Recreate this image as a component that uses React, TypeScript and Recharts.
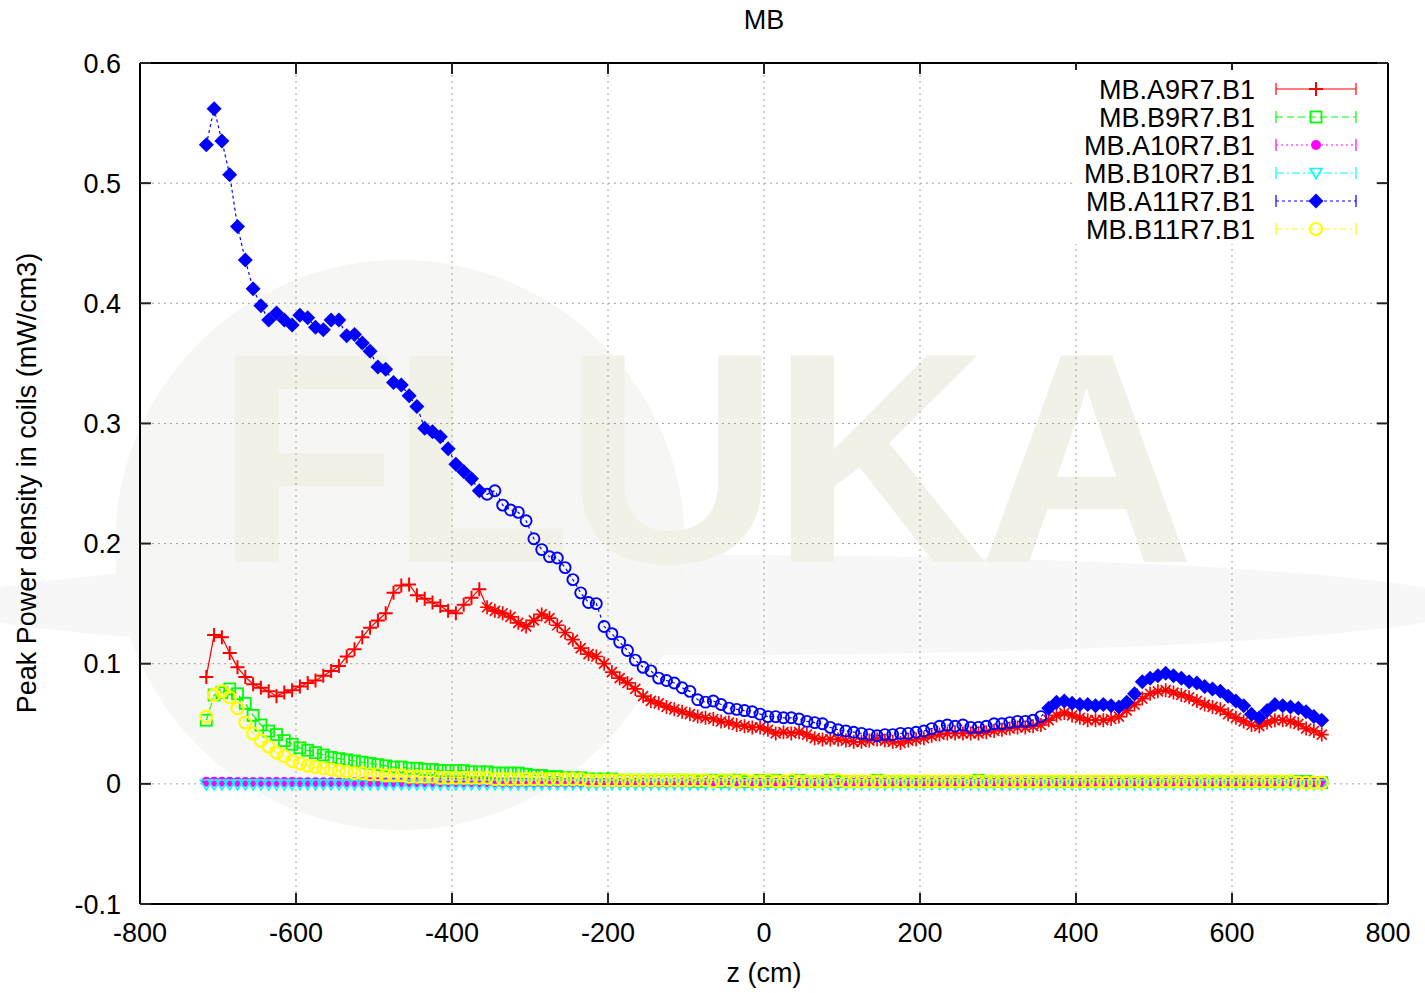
import { LineChart, Line, XAxis, YAxis, CartesianGrid } from 'recharts'

// z positions along the magnet (cm)
const zPos = [
  -715, -705, -695, -685, -675, -665, -655, -645, -635, -625, -615, -605,
  -595, -585, -575, -565, -555, -545, -535, -525, -515, -505, -495, -485,
  -475, -465, -455, -445, -435, -425, -415, -405, -395, -385, -375, -365,
  -355, -345, -335, -325, -315, -305, -295, -285, -275, -265, -255, -245,
  -235, -225, -215, -205, -195, -185, -175, -165, -155, -145, -135, -125,
  -115, -105, -95, -85, -75, -65, -55, -45, -35, -25, -15, -5,
  5, 15, 25, 35, 45, 55, 65, 75, 85, 95, 105, 115,
  125, 135, 145, 155, 165, 175, 185, 195, 205, 215, 225, 235,
  245, 255, 265, 275, 285, 295, 305, 315, 325, 335, 345, 355,
  365, 375, 385, 395, 405, 415, 425, 435, 445, 455, 465, 475,
  485, 495, 505, 515, 525, 535, 545, 555, 565, 575, 585, 595,
  605, 615, 625, 635, 645, 655, 665, 675, 685, 695, 705, 715
]

const mbA9 = [
  0.089, 0.124, 0.122, 0.109, 0.097, 0.089, 0.083, 0.080, 0.077, 0.073, 0.076, 0.078,
  0.081, 0.084, 0.086, 0.090, 0.094, 0.098, 0.106, 0.112, 0.122, 0.130, 0.136, 0.142,
  0.159, 0.165, 0.166, 0.157, 0.154, 0.151, 0.148, 0.144, 0.142, 0.149, 0.155, 0.162,
  0.147, 0.144, 0.142, 0.139, 0.134, 0.131, 0.136, 0.141, 0.138, 0.132, 0.126, 0.120,
  0.113, 0.108, 0.106, 0.100, 0.093, 0.088, 0.084, 0.079, 0.073, 0.069, 0.067, 0.064,
  0.062, 0.060, 0.058, 0.056, 0.055, 0.054, 0.052, 0.051, 0.049, 0.048, 0.047, 0.047,
  0.045, 0.042, 0.043, 0.042, 0.043, 0.041, 0.038, 0.037, 0.037, 0.037, 0.036, 0.035,
  0.035, 0.036, 0.037, 0.036, 0.035, 0.034, 0.036, 0.037, 0.038, 0.040, 0.041, 0.042,
  0.042, 0.042, 0.042, 0.042, 0.043, 0.044, 0.045, 0.046, 0.047, 0.047, 0.048, 0.049,
  0.053, 0.057, 0.059, 0.057, 0.055, 0.053, 0.053, 0.053, 0.054, 0.056, 0.061, 0.066,
  0.071, 0.075, 0.077, 0.078, 0.076, 0.074, 0.072, 0.069, 0.066, 0.064, 0.062, 0.058,
  0.055, 0.052, 0.049, 0.048, 0.051, 0.053, 0.053, 0.052, 0.050, 0.046, 0.044, 0.041
]

const mbB9 = [
  0.053, 0.074, 0.076, 0.079, 0.075, 0.067, 0.057, 0.049, 0.044, 0.041, 0.036, 0.033,
  0.030, 0.028, 0.026, 0.024, 0.022, 0.021, 0.020, 0.019, 0.018, 0.017, 0.016, 0.015,
  0.014, 0.014, 0.013, 0.013, 0.012, 0.012, 0.011, 0.011, 0.011, 0.011, 0.010, 0.010,
  0.010, 0.009, 0.009, 0.009, 0.009, 0.008, 0.007, 0.007, 0.006, 0.006, 0.005, 0.005,
  0.005, 0.004, 0.004, 0.004, 0.004, 0.003, 0.003, 0.003, 0.003, 0.003, 0.003, 0.003,
  0.003, 0.003, 0.003, 0.002, 0.003, 0.003, 0.002, 0.003, 0.003, 0.002, 0.002, 0.003,
  0.002, 0.003, 0.002, 0.002, 0.003, 0.002, 0.002, 0.002, 0.003, 0.002, 0.002, 0.002,
  0.002, 0.002, 0.003, 0.002, 0.002, 0.002, 0.002, 0.002, 0.002, 0.002, 0.002, 0.002,
  0.002, 0.002, 0.002, 0.003, 0.002, 0.002, 0.002, 0.002, 0.002, 0.002, 0.002, 0.002,
  0.002, 0.002, 0.002, 0.002, 0.002, 0.002, 0.002, 0.002, 0.002, 0.002, 0.002, 0.002,
  0.002, 0.002, 0.002, 0.002, 0.002, 0.002, 0.002, 0.002, 0.002, 0.002, 0.002, 0.002,
  0.002, 0.002, 0.002, 0.002, 0.002, 0.002, 0.002, 0.002, 0.002, 0.002, 0.001, 0.001
]

const mbA10 = [
  0.0018, 0.0018, 0.0017, 0.0017, 0.0016, 0.0016, 0.0016, 0.0015, 0.0015, 0.0015, 0.0015, 0.0015,
  0.0014, 0.0014, 0.0014, 0.0014, 0.0014, 0.0013, 0.0013, 0.0013, 0.0013, 0.0013, 0.0013, 0.0012,
  0.0012, 0.0012, 0.0012, 0.0012, 0.0012, 0.0012, 0.0011, 0.0011, 0.0011, 0.0011, 0.0011, 0.0011,
  0.0011, 0.0011, 0.0010, 0.0010, 0.0010, 0.0010, 0.0010, 0.0010, 0.0010, 0.0010, 0.0010, 0.0010,
  0.0010, 0.0010, 0.0010, 0.0010, 0.0010, 0.0010, 0.0010, 0.0010, 0.0010, 0.0010, 0.0010, 0.0010,
  0.0010, 0.0010, 0.0010, 0.0010, 0.0010, 0.0010, 0.0010, 0.0010, 0.0010, 0.0010, 0.0010, 0.0010,
  0.0010, 0.0010, 0.0010, 0.0010, 0.0010, 0.0010, 0.0010, 0.0010, 0.0010, 0.0010, 0.0010, 0.0010,
  0.0010, 0.0010, 0.0010, 0.0010, 0.0010, 0.0010, 0.0010, 0.0010, 0.0010, 0.0010, 0.0010, 0.0010,
  0.0010, 0.0010, 0.0010, 0.0010, 0.0010, 0.0010, 0.0010, 0.0010, 0.0010, 0.0010, 0.0010, 0.0010,
  0.0010, 0.0010, 0.0010, 0.0010, 0.0010, 0.0010, 0.0010, 0.0010, 0.0010, 0.0010, 0.0010, 0.0010,
  0.0010, 0.0010, 0.0010, 0.0010, 0.0010, 0.0010, 0.0010, 0.0010, 0.0010, 0.0010, 0.0010, 0.0010,
  0.0010, 0.0010, 0.0010, 0.0010, 0.0010, 0.0010, 0.0010, 0.0010, 0.0010, 0.0010, 0.0010, 0.0010
]

const mbB10 = [
  -0.0005, -0.0005, -0.0005, -0.0005, -0.0005, -0.0005, -0.0005, -0.0005, -0.0005, -0.0005, -0.0005, -0.0005,
  -0.0005, -0.0005, -0.0005, -0.0005, -0.0005, -0.0005, -0.0005, -0.0005, -0.0005, -0.0005, -0.0005, -0.0005,
  -0.0005, -0.0005, -0.0005, -0.0005, -0.0005, -0.0005, -0.0005, -0.0005, -0.0005, -0.0005, -0.0005, -0.0005,
  -0.0004, -0.0004, -0.0004, -0.0004, -0.0004, -0.0004, -0.0004, -0.0004, -0.0004, -0.0004, -0.0004, -0.0004,
  -0.0004, -0.0004, -0.0004, -0.0004, -0.0004, -0.0004, -0.0004, -0.0004, -0.0004, -0.0004, -0.0004, -0.0004,
  -0.0004, -0.0004, -0.0004, -0.0004, -0.0004, -0.0004, -0.0004, -0.0004, -0.0004, -0.0004, -0.0004, -0.0004,
  -0.0004, -0.0004, -0.0004, -0.0004, -0.0004, -0.0004, -0.0004, -0.0004, -0.0004, -0.0004, -0.0004, -0.0004,
  -0.0004, -0.0004, -0.0004, -0.0004, -0.0004, -0.0004, -0.0004, -0.0004, -0.0004, -0.0004, -0.0004, -0.0004,
  -0.0004, -0.0004, -0.0004, -0.0004, -0.0004, -0.0004, -0.0004, -0.0004, -0.0004, -0.0004, -0.0004, -0.0004,
  -0.0004, -0.0004, -0.0004, -0.0004, -0.0004, -0.0004, -0.0004, -0.0004, -0.0004, -0.0004, -0.0004, -0.0004,
  -0.0004, -0.0004, -0.0004, -0.0004, -0.0004, -0.0004, -0.0004, -0.0004, -0.0004, -0.0004, -0.0004, -0.0004,
  -0.0004, -0.0004, -0.0004, -0.0004, -0.0004, -0.0004, -0.0004, -0.0004, -0.0004, -0.0004, -0.0004, -0.0004
]

const mbA11 = [
  0.532, 0.562, 0.535, 0.507, 0.464, 0.436, 0.412, 0.398, 0.386, 0.392, 0.386, 0.382,
  0.390, 0.388, 0.380, 0.378, 0.386, 0.386, 0.373, 0.374, 0.367, 0.360, 0.347, 0.345,
  0.334, 0.332, 0.323, 0.314, 0.296, 0.293, 0.289, 0.279, 0.266, 0.260, 0.254, 0.244,
  0.241, 0.244, 0.232, 0.228, 0.226, 0.219, 0.204, 0.195, 0.189, 0.188, 0.180, 0.170,
  0.159, 0.151, 0.150, 0.131, 0.125, 0.118, 0.111, 0.103, 0.097, 0.094, 0.088, 0.086,
  0.084, 0.080, 0.077, 0.070, 0.068, 0.069, 0.066, 0.063, 0.062, 0.061, 0.060, 0.058,
  0.056, 0.056, 0.055, 0.055, 0.054, 0.052, 0.051, 0.050, 0.047, 0.045, 0.044, 0.043,
  0.042, 0.041, 0.040, 0.041, 0.041, 0.042, 0.042, 0.043, 0.044, 0.046, 0.048, 0.049,
  0.048, 0.049, 0.047, 0.047, 0.048, 0.050, 0.050, 0.051, 0.052, 0.052, 0.053, 0.056,
  0.063, 0.068, 0.069, 0.067, 0.066, 0.066, 0.065, 0.066, 0.065, 0.064, 0.068, 0.075,
  0.085, 0.088, 0.090, 0.092, 0.090, 0.088, 0.085, 0.084, 0.081, 0.079, 0.077, 0.073,
  0.069, 0.065, 0.058, 0.055, 0.061, 0.066, 0.065, 0.064, 0.063, 0.060, 0.056, 0.053
]

const mbB11 = [
  0.056, 0.074, 0.077, 0.072, 0.063, 0.051, 0.042, 0.036, 0.031, 0.026, 0.023, 0.019,
  0.017, 0.015, 0.014, 0.013, 0.012, 0.011, 0.010, 0.009, 0.009, 0.008, 0.008, 0.007,
  0.007, 0.007, 0.006, 0.006, 0.006, 0.006, 0.005, 0.005, 0.005, 0.005, 0.005, 0.005,
  0.005, 0.004, 0.004, 0.004, 0.004, 0.004, 0.004, 0.004, 0.004, 0.004, 0.004, 0.004,
  0.004, 0.003, 0.003, 0.003, 0.003, 0.003, 0.003, 0.003, 0.003, 0.003, 0.003, 0.003,
  0.003, 0.003, 0.003, 0.003, 0.003, 0.002, 0.003, 0.003, 0.002, 0.003, 0.002, 0.002,
  0.003, 0.002, 0.002, 0.003, 0.002, 0.002, 0.002, 0.002, 0.002, 0.003, 0.002, 0.002,
  0.002, 0.002, 0.002, 0.002, 0.002, 0.002, 0.002, 0.002, 0.002, 0.002, 0.002, 0.002,
  0.002, 0.002, 0.002, 0.002, 0.002, 0.002, 0.002, 0.002, 0.002, 0.002, 0.002, 0.002,
  0.002, 0.002, 0.002, 0.002, 0.002, 0.002, 0.002, 0.002, 0.002, 0.002, 0.002, 0.002,
  0.002, 0.002, 0.002, 0.002, 0.002, 0.002, 0.002, 0.002, 0.002, 0.002, 0.002, 0.002,
  0.002, 0.002, 0.002, 0.002, 0.002, 0.002, 0.002, 0.002, 0.001, 0.001, 0.001, 0.001
]

const xTicks = [-800, -600, -400, -200, 0, 200, 400, 600, 800]
const yTicks = [-0.1, 0, 0.1, 0.2, 0.3, 0.4, 0.5, 0.6]

const rows = zPos.map((z, i) => ({
  z,
  a9: mbA9[i],
  b9: mbB9[i],
  a10: mbA10[i],
  b10: mbB10[i],
  a11: mbA11[i],
  b11: mbB11[i]
}))

const FONT = '"Liberation Sans", Arial, Helvetica, sans-serif'

type MarkerKind = 'plus' | 'star' | 'square' | 'disc' | 'tri' | 'diamond' | 'ring' | 'circle'

function Marker({ kind, cx, cy, color }: { kind: MarkerKind; cx: number; cy: number; color: string }) {
  switch (kind) {
    case 'plus':
      return (
        <path d={`M${cx - 7},${cy}H${cx + 7}M${cx},${cy - 7}V${cy + 7}`} stroke={color} strokeWidth={2} fill="none" />
      )
    case 'star':
      return (
        <path
          d={`M${cx - 7},${cy}H${cx + 7}M${cx},${cy - 7}V${cy + 7}M${cx - 5},${cy - 5}L${cx + 5},${cy + 5}M${cx - 5},${cy + 5}L${cx + 5},${cy - 5}`}
          stroke={color}
          strokeWidth={1.7}
          fill="none"
        />
      )
    case 'square':
      return <rect x={cx - 5.5} y={cy - 5.5} width={11} height={11} fill="none" stroke={color} strokeWidth={1.8} />
    case 'disc':
      return <circle cx={cx} cy={cy} r={5} fill={color} />
    case 'tri':
      return (
        <path d={`M${cx - 6},${cy - 4.5}L${cx + 6},${cy - 4.5}L${cx},${cy + 5.5}Z`} fill="none" stroke={color} strokeWidth={1.6} />
      )
    case 'diamond':
      return <path d={`M${cx},${cy - 7.5}L${cx + 7.5},${cy}L${cx},${cy + 7.5}L${cx - 7.5},${cy}Z`} fill={color} />
    case 'ring':
      return <circle cx={cx} cy={cy} r={5.5} fill="none" stroke={color} strokeWidth={1.9} />
    default:
      return <circle cx={cx} cy={cy} r={6} fill="none" stroke={color} strokeWidth={2.2} />
  }
}

const series = [
  { key: 'a9', name: 'MB.A9R7.B1', color: '#ff0000', dash: undefined, marker: 'plus' as MarkerKind },
  { key: 'b9', name: 'MB.B9R7.B1', color: '#00ff00', dash: '7 4', marker: 'square' as MarkerKind },
  { key: 'a10', name: 'MB.A10R7.B1', color: '#ff00ff', dash: '2 3', marker: 'disc' as MarkerKind },
  { key: 'b10', name: 'MB.B10R7.B1', color: '#00ffff', dash: '8 3 2 3', marker: 'tri' as MarkerKind },
  { key: 'a11', name: 'MB.A11R7.B1', color: '#0000ff', dash: '3 3', marker: 'diamond' as MarkerKind },
  { key: 'b11', name: 'MB.B11R7.B1', color: '#ffff00', dash: '6 4 2 4', marker: 'circle' as MarkerKind }
]

// the A9 and A11 curves change point style in the central section of the plot
function markerFor(key: string, base: MarkerKind, z: number): MarkerKind {
  if (key === 'a9') return z <= -360 ? 'plus' : 'star'
  if (key === 'a11') return z <= -360 || z >= 360 ? 'diamond' : 'ring'
  return base
}

function makeDot(key: string, base: MarkerKind, color: string) {
  return (props: any) => {
    const { cx, cy, index, payload } = props
    if (cx == null || cy == null) return <g key={`${key}-${index}`} />
    return (
      <g key={`${key}-${index}`}>
        <Marker kind={markerFor(key, base, payload.z)} cx={cx} cy={cy} color={color} />
      </g>
    )
  }
}

function Watermark() {
  return (
    <svg width={1425} height={993} style={{ position: 'absolute', left: 0, top: 0 }}>
      <ellipse cx={712} cy={605} rx={760} ry={50} fill="#f7f7f7" />
      <circle cx={400} cy={545} r={285} fill="#f6f6f4" />
      <text x={215} y={562} fontFamily={FONT} fontWeight="bold" fontSize={300} fill="#f1f1e7" textLength={980}>
        FLUKA
      </text>
    </svg>
  )
}

function KeyBox() {
  return (
    <svg width={1425} height={993} style={{ position: 'absolute', left: 0, top: 0, pointerEvents: 'none' }}>
      <rect x={1074} y={70} width={300} height={174} fill="#ffffff" />
      {series.map((s, i) => {
        const y = 89 + 28 * i
        return (
          <g key={s.key}>
            <text x={1255} y={y} dy="0.36em" textAnchor="end" fontFamily={FONT} fontSize={27} fill="#000">
              {s.name}
            </text>
            <line x1={1276} y1={y} x2={1356} y2={y} stroke={s.color} strokeWidth={1.2} strokeDasharray={s.dash} />
            <line x1={1276} y1={y - 6} x2={1276} y2={y + 6} stroke={s.color} strokeWidth={1.2} />
            <line x1={1356} y1={y - 6} x2={1356} y2={y + 6} stroke={s.color} strokeWidth={1.2} />
            <Marker kind={s.marker} cx={1316} cy={y} color={s.color} />
          </g>
        )
      })}
    </svg>
  )
}

export default function App() {
  const tickStyle = { fill: '#000', fontSize: 27, fontFamily: FONT }
  return (
    <div style={{ position: 'absolute', left: 0, top: 0, width: 1425, height: 993, background: '#fff' }}>
      <Watermark />
      <div style={{ position: 'absolute', left: 0, top: 0 }}>
        <LineChart width={1425} height={993} data={rows} margin={{ top: 33, right: 7, bottom: 29, left: 80 }}>
          <CartesianGrid stroke="#a0a0a0" strokeDasharray="2 4" strokeWidth={1} />
          <XAxis
            dataKey="z"
            type="number"
            domain={[-800, 800]}
            ticks={xTicks}
            interval={0}
            height={60}
            tickSize={-11}
            tickMargin={30}
            tick={tickStyle}
            axisLine={{ stroke: '#000', strokeWidth: 2 }}
            tickLine={{ stroke: '#222', strokeWidth: 2 }}
          />
          <XAxis
            xAxisId="top"
            orientation="top"
            dataKey="z"
            type="number"
            domain={[-800, 800]}
            allowDataOverflow
            ticks={xTicks}
            interval={0}
            height={30}
            tickSize={-11}
            tickFormatter={() => ''}
            axisLine={{ stroke: '#000', strokeWidth: 2 }}
            tickLine={{ stroke: '#222', strokeWidth: 2 }}
          />
          <YAxis
            type="number"
            domain={[-0.1, 0.6]}
            ticks={yTicks}
            interval={0}
            width={60}
            tickSize={-11}
            tickMargin={30}
            tick={tickStyle}
            axisLine={{ stroke: '#000', strokeWidth: 2 }}
            tickLine={{ stroke: '#222', strokeWidth: 2 }}
          />
          <YAxis
            yAxisId="right"
            orientation="right"
            type="number"
            domain={[-0.1, 0.6]}
            allowDataOverflow
            ticks={yTicks}
            interval={0}
            width={30}
            tickSize={-11}
            tickFormatter={() => ''}
            axisLine={{ stroke: '#000', strokeWidth: 2 }}
            tickLine={{ stroke: '#222', strokeWidth: 2 }}
          />
          {series.map((s) => (
            <Line
              key={s.key}
              type="linear"
              dataKey={s.key}
              name={s.name}
              stroke={s.color}
              strokeWidth={1.2}
              strokeDasharray={s.dash}
              dot={makeDot(s.key, s.marker, s.color)}
              activeDot={false}
              isAnimationActive={false}
            />
          ))}
        </LineChart>
      </div>
      <KeyBox />
      <div
        style={{
          position: 'absolute',
          left: 664,
          top: 5,
          width: 200,
          textAlign: 'center',
          fontFamily: FONT,
          fontSize: 27,
          lineHeight: '30px'
        }}>
        MB
      </div>
      <div
        style={{
          position: 'absolute',
          left: 664,
          top: 958,
          width: 200,
          textAlign: 'center',
          fontFamily: FONT,
          fontSize: 27,
          lineHeight: '30px'
        }}>
        z (cm)
      </div>
      <div
        style={{
          position: 'absolute',
          left: 27,
          top: 483,
          transform: 'translate(-50%, -50%) rotate(-90deg)',
          whiteSpace: 'nowrap',
          fontFamily: FONT,
          fontSize: 27,
          lineHeight: '30px'
        }}>
        Peak Power density in coils (mW/cm3)
      </div>
    </div>
  )
}
